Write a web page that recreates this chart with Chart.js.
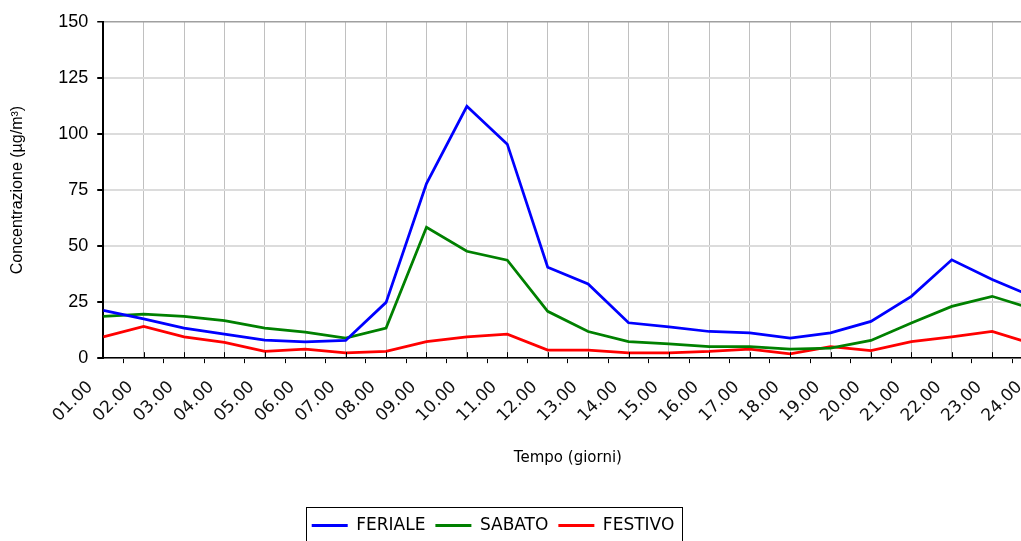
<!DOCTYPE html>
<html lang="it">
<head>
<meta charset="utf-8">
<title>Concentrazione oraria</title>
<script src="https://cdn.jsdelivr.net/npm/chart.js@4.4.1/dist/chart.umd.min.js"></script>
<style>
    body { margin: 0; overflow: hidden; background: #fff; }
    .container_g { position: absolute; left: -75px; top: 0; width: 1136px; height: 544px; }
</style>
</head>
<body>
<div class="container_g"><canvas id="chart-linee"></canvas></div>

<script>
    const ore = ['01.00', '02.00', '03.00', '04.00', '05.00', '06.00', '07.00', '08.00', '09.00', '10.00', '11.00', '12.00',
                 '13.00', '14.00', '15.00', '16.00', '17.00', '18.00', '19.00', '20.00', '21.00', '22.00', '23.00', '24.00'];
    const feriale = [21.3, 17.5, 13.4, 10.7, 8.1, 7.3, 7.9, 24.9, 77.9, 112.4, 95.5, 40.6,
                     33.1, 15.8, 14.0, 11.9, 11.3, 9.0, 11.3, 16.4, 27.6, 43.9, 35.1, 27.5];
    const sabato = [18.6, 19.7, 18.6, 16.7, 13.4, 11.6, 9.0, 13.4, 58.4, 47.7, 43.7, 20.9,
                    11.9, 7.4, 6.4, 5.1, 5.1, 4.0, 4.5, 7.9, 15.7, 23.1, 27.6, 22.0];
    const festivo = [9.5, 14.2, 9.5, 7.0, 3.0, 4.0, 2.4, 3.0, 7.4, 9.5, 10.7, 3.6,
                     3.6, 2.4, 2.4, 3.0, 4.0, 1.9, 5.1, 3.4, 7.4, 9.5, 11.9, 6.4];
    const tickY = [0, 25, 50, 75, 100, 125, 150];

    const ctx = document.getElementById('chart-linee').getContext('2d');

    function punti(valori) {
        return valori.map((v, i) => ({ x: i, y: v }));
    }

    function intero(v) {
        return Math.abs(v - Math.round(v)) < 1e-6;
    }

    // cornice attorno alla legenda
    const bordoLegenda = {
        id: 'bordoLegenda',
        afterDraw(chart) {
            const lg = chart.legend;
            const boxes = lg.legendHitBoxes;
            if (!boxes || !boxes.length) return;
            const sx = Math.min(...boxes.map(b => b.left)) - 6;
            const dx = Math.max(...boxes.map(b => b.left + b.width)) + 7;
            const c = chart.ctx;
            c.save();
            c.strokeStyle = '#000';
            c.lineWidth = 1;
            c.strokeRect(Math.round(sx) + 0.5, Math.round(lg.top) + 0.5, Math.round(dx - sx), lg.height + 10);
            c.restore();
        }
    };

    // tacche principali verso l'interno (quelle intermedie sono verso l'esterno)
    const tacchePrincipali = {
        id: 'tacchePrincipali',
        afterDatasetsDraw(chart) {
            const sc = chart.scales.x;
            const fondo = chart.chartArea.bottom;
            const c = chart.ctx;
            c.save();
            c.strokeStyle = '#000';
            c.lineWidth = 1;
            c.beginPath();
            ore.forEach((o, i) => {
                const x = Math.round(sc.getPixelForValue(i)) + 0.5;
                c.moveTo(x, fondo - 6);
                c.lineTo(x, fondo);
            });
            c.stroke();
            c.restore();
        }
    };

    function serie(nome, valori, colore) {
        return {
            label: nome,
            data: punti(valori),
            borderColor: colore,
            backgroundColor: colore,
            borderWidth: 2.75,
            pointRadius: 0,
            tension: 0,
            fill: false
        };
    }

    new Chart(ctx, {
        type: 'line',
        data: {
            datasets: [
                serie('FERIALE', feriale, '#0000ff'),
                serie('SABATO', sabato, '#008000'),
                serie('FESTIVO', festivo, '#ff0000')
            ]
        },
        plugins: [bordoLegenda, tacchePrincipali],
        options: {
            responsive: true,
            maintainAspectRatio: false,
            animation: false,
            layout: { padding: { top: 22, left: 0, right: 0, bottom: 0 } },
            plugins: {
                tooltip: { enabled: false },
                legend: {
                    position: 'bottom',
                    onClick: null,
                    labels: {
                        color: '#000',
                        boxWidth: 36,
                        boxHeight: 3,
                        padding: 10,
                        font: { family: "'DejaVu Sans', Verdana, sans-serif", size: 17 },
                        generateLabels: chart => chart.data.datasets.map((ds, i) => ({
                            text: ds.label,
                            fillStyle: ds.borderColor,
                            strokeStyle: ds.borderColor,
                            lineWidth: 0,
                            hidden: false,
                            datasetIndex: i,
                            fontColor: '#000'
                        }))
                    }
                }
            },
            scales: {
                x: {
                    type: 'linear',
                    min: 0,
                    max: ore.length - 1,
                    border: { color: '#000', width: 1.5 },
                    grid: {
                        color: c => (c.tick && intero(c.tick.value)) ? '#c0c0c0' : 'transparent',
                        tickColor: c => (c.tick && intero(c.tick.value)) ? 'transparent' : '#000',
                        tickLength: 5,
                        lineWidth: 1
                    },
                    ticks: {
                        stepSize: 0.5,
                        autoSkip: false,
                        maxRotation: 45,
                        minRotation: 45,
                        padding: 14,
                        labelOffset: -13,
                        color: '#111',
                        font: { family: "'DejaVu Sans', Verdana, sans-serif", size: 17 },
                        callback: v => intero(v) ? ore[Math.round(v)] : ''
                    },
                    title: {
                        display: true,
                        text: 'Tempo (giorni)',
                        color: '#000',
                        font: { family: "'DejaVu Sans', Verdana, sans-serif", size: 15 },
                        padding: { top: 9, bottom: 40 }
                    }
                },
                y: {
                    min: tickY[0],
                    max: tickY[tickY.length - 1],
                    border: { color: '#000', width: 2 },
                    grid: {
                        color: c => (c.tick && c.tick.value === 150) ? '#a0a0a0' : '#dcdcdc',
                        lineWidth: c => (c.tick && c.tick.value === 150) ? 1.5 : 2,
                        tickColor: '#000',
                        tickLength: 6
                    },
                    afterBuildTicks: scale => { scale.ticks = tickY.map(v => ({ value: v })); },
                    ticks: {
                        padding: 9,
                        color: '#000',
                        font: { family: "'Liberation Sans', Arial, sans-serif", size: 18 }
                    },
                    title: {
                        display: true,
                        text: 'Concentrazione (µg/m³)',
                        color: '#000',
                        font: { family: "'Liberation Sans', Arial, sans-serif", size: 16 },
                        padding: { top: 83, bottom: 22 }
                    }
                }
            }
        }
    });
</script>
</body>
</html>
